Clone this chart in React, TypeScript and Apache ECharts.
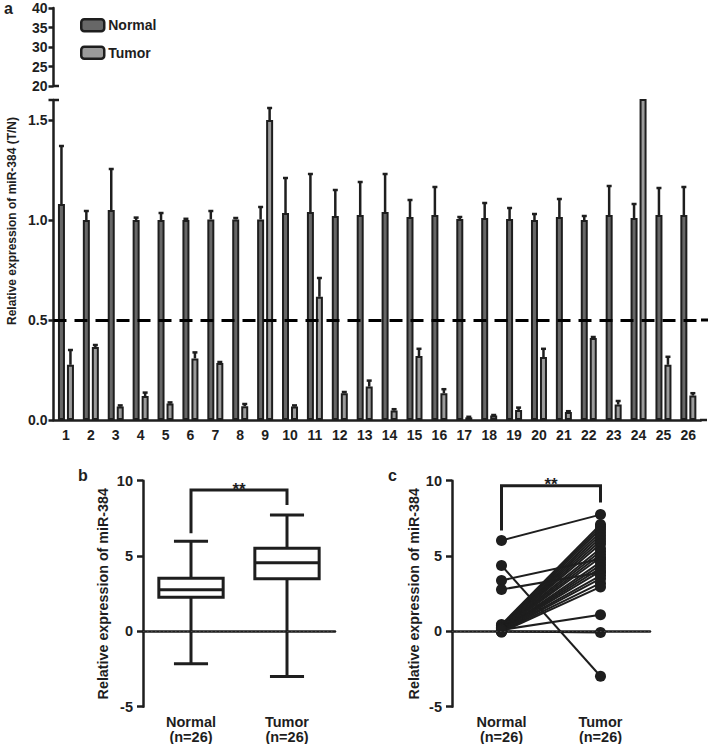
import React, { useEffect, useRef } from "react";
import * as echarts from "echarts";

const FONT = "'Liberation Sans', Arial, sans-serif";
const INK = "#1e1e1e";

// Panel a
const sampleLabels = Array.from({ length: 26 }, (_, i) => String(i + 1));
const normalMean = [1.08, 1.0, 1.05, 1.0, 1.0, 1.0, 1.003, 1.003, 1.003, 1.035, 1.04, 1.02, 1.025, 1.04, 1.015, 1.025, 1.005, 1.01, 1.005, 1.0, 1.015, 1.0, 1.025, 1.01, 1.025, 1.025];
const normalErr = [1.37, 1.045, 1.255, 1.012, 1.035, 1.006, 1.045, 1.01, 1.065, 1.21, 1.23, 1.15, 1.19, 1.23, 1.1, 1.165, 1.015, 1.085, 1.06, 1.03, 1.105, 1.02, 1.17, 1.08, 1.16, 1.165];
const tumorMean = [0.276, 0.365, 0.067, 0.12, 0.082, 0.308, 0.285, 0.069, 1.5, 0.067, 0.616, 0.134, 0.167, 0.047, 0.32, 0.134, 0.013, 0.022, 0.05, 0.315, 0.04, 0.41, 0.077, 2.0, 0.276, 0.122];
const tumorErr: (number | null)[] = [0.35, 0.375, 0.073, 0.137, 0.088, 0.338, 0.29, 0.08, 1.56, 0.073, 0.71, 0.14, 0.197, 0.054, 0.356, 0.154, 0.016, 0.025, 0.062, 0.356, 0.044, 0.415, 0.095, null, 0.316, 0.134];
const upperTicks = [20, 25, 30, 35, 40];
const cutoffLine = 0.5;

// Panel b (box plot: min, q1, median, q3, max)
const groupLabels = ["Normal\n(n=26)", "Tumor\n(n=26)"];
const boxNormal = [-2.15, 2.27, 2.76, 3.53, 5.98];
const boxTumor = [-3.0, 3.49, 4.55, 5.52, 7.73];
const bracketB = [9.38, 6.51, 8.39]; // top, left end, right end

// Panel c (paired)
const pairedNormal = [6.03, 4.37, 3.38, 2.78, 0.45, 0.4, 0.35, 0.3, 0.28, 0.25, 0.22, 0.2, 0.18, 0.15, 0.12, 0.1, 0.08, 0.06, 0.05, 0.03, 0.02, 0.0, -0.02, -0.05, 0.1, 0.0];
const pairedTumor = [7.75, -2.98, 4.8, 3.9, 7.1, 6.95, 6.8, 6.6, 6.4, 6.2, 6.0, 5.8, 5.5, 5.3, 5.1, 4.9, 4.6, 4.4, 4.2, 4.0, 3.7, 3.5, 3.2, 2.95, 1.1, -0.08];
const bracketC = [9.67, 6.69, 8.56];

const labelStyle = { color: INK, fontFamily: FONT, fontWeight: "bold" as const, fontSize: 14 };
const axisLineStyle = { lineStyle: { color: INK, width: 2.5 } };
const axisTickStyle = { length: 5, lineStyle: { color: INK, width: 2.5 } };

function errRender(offset: number) {
  return (params: any, api: any) => {
    const x = api.value(0);
    const v = api.value(1);
    const e = api.value(2);
    if (e == null || isNaN(e)) return null;
    const p0 = api.coord([x, v]);
    const p1 = api.coord([x, e]);
    const cx = p0[0] + offset;
    return {
      type: "group",
      children: [
        { type: "line", shape: { x1: cx, y1: p0[1], x2: cx, y2: p1[1] }, style: { stroke: INK, lineWidth: 2.5 } },
        { type: "line", shape: { x1: cx - 2.5, y1: p1[1], x2: cx + 2.5, y2: p1[1] }, style: { stroke: INK, lineWidth: 2.5 } },
      ],
    };
  };
}

function boxRender(params: any, api: any) {
  const i = api.value(0);
  const vals = [1, 2, 3, 4, 5].map((k) => api.coord([i, api.value(k)])[1]);
  const cx = api.coord([i, 0])[0];
  const band = api.size([1, 0])[0];
  const bw = band * 0.67;
  const cw = band * 0.355;
  const [yMin, yQ1, yMed, yQ3, yMax] = vals;
  const st = { stroke: INK, lineWidth: 3, fill: "none" };
  return {
    type: "group",
    children: [
      { type: "line", shape: { x1: cx, y1: yQ3, x2: cx, y2: yMax }, style: st },
      { type: "line", shape: { x1: cx - cw / 2, y1: yMax, x2: cx + cw / 2, y2: yMax }, style: st },
      { type: "line", shape: { x1: cx, y1: yQ1, x2: cx, y2: yMin }, style: st },
      { type: "line", shape: { x1: cx - cw / 2, y1: yMin, x2: cx + cw / 2, y2: yMin }, style: st },
      { type: "rect", shape: { x: cx - bw / 2, y: yQ3, width: bw, height: yQ1 - yQ3 }, style: { stroke: INK, lineWidth: 3, fill: "#fff" } },
      { type: "line", shape: { x1: cx - bw / 2, y1: yMed, x2: cx + bw / 2, y2: yMed }, style: st },
    ],
  };
}

function bracketRender(params: any, api: any) {
  const top = api.value(0);
  const le = api.value(1);
  const re = api.value(2);
  const a = api.coord([0, le]);
  const b = api.coord([0, top]);
  const c = api.coord([1, top]);
  const d = api.coord([1, re]);
  return {
    type: "group",
    children: [
      { type: "polyline", shape: { points: [a, b, c, d] }, style: { stroke: INK, lineWidth: 3, fill: "none" } },
      {
        type: "text",
        x: (b[0] + c[0]) / 2,
        y: b[1] - 1,
        style: { text: "**", fill: INK, font: `bold 17px ${FONT}`, align: "center", verticalAlign: "middle" },
      },
    ],
  };
}

const dotted = {
  silent: true,
  symbol: "none",
  label: { show: false },
  lineStyle: { color: "#444", width: 1.2, type: [1.5, 2.5] },
  data: [{ yAxis: 0 }],
};

export default function App() {
  const ref = useRef<HTMLDivElement>(null);
  useEffect(() => {
    if (!ref.current) return;
    const chart = echarts.init(ref.current, null, { renderer: "svg" });
    const gridA1 = { left: 53.5, top: 8, width: 647.3, height: 78 };
    const gridA2 = { left: 53.5, top: 100, width: 647.3, height: 320 };
    const gridB = { left: 143, top: 480.7, width: 192, height: 226 };
    const gridC = { left: 452, top: 480.7, width: 198, height: 226 };

    const pairSeries = pairedNormal.map((n, i) => ({
      type: "line",
      xAxisIndex: 3,
      yAxisIndex: 3,
      data: [n, pairedTumor[i]],
      symbol: "circle",
      symbolSize: 11,
      showSymbol: true,
      lineStyle: { color: INK, width: 2 },
      itemStyle: { color: INK },
      silent: true,
      z: 3,
    }));

    const option: any = {
      animation: false,
      backgroundColor: "#fff",
      textStyle: { fontFamily: FONT },
      grid: [gridA1, gridA2, gridB, gridC].map((g) => ({ ...g, containLabel: false, outerBoundsMode: "none" })),
      legend: {
        data: ["Normal", "Tumor"],
        orient: "vertical",
        left: 80,
        top: 18,
        padding: 0,
        itemWidth: 23,
        itemHeight: 12,
        itemGap: 13,
        textStyle: { ...labelStyle, fontSize: 14, padding: [0, 0, 0, -1] },
        itemStyle: { borderColor: INK, borderWidth: 2.5 },
      },
      xAxis: [
        { type: "category", gridIndex: 0, data: sampleLabels, show: false },
        {
          type: "category",
          gridIndex: 1,
          data: sampleLabels,
          axisLine: axisLineStyle,
          axisTick: { ...axisTickStyle, alignWithLabel: true },
          axisLabel: { ...labelStyle, margin: 8, interval: 0 },
        },
        {
          type: "category",
          gridIndex: 2,
          data: groupLabels,
          axisLine: axisLineStyle,
          axisTick: { ...axisTickStyle, alignWithLabel: true },
          axisLabel: { ...labelStyle, fontSize: 14.5, lineHeight: 15, margin: 8 },
        },
        {
          type: "category",
          gridIndex: 3,
          data: groupLabels,
          axisLine: axisLineStyle,
          axisTick: { ...axisTickStyle, alignWithLabel: true },
          axisLabel: { ...labelStyle, fontSize: 14.5, lineHeight: 15, margin: 8 },
        },
      ],
      yAxis: [
        {
          type: "value",
          gridIndex: 0,
          min: upperTicks[0],
          max: upperTicks[upperTicks.length - 1],
          interval: 5,
          axisLine: { show: true, ...axisLineStyle },
          axisTick: { show: true, ...axisTickStyle },
          axisLabel: { ...labelStyle, margin: 6 },
          splitLine: { show: false },
        },
        {
          type: "value",
          gridIndex: 1,
          min: 0,
          max: 1.6,
          interval: 0.5,
          axisLine: { show: true, ...axisLineStyle },
          axisTick: { show: true, ...axisTickStyle },
          axisLabel: { ...labelStyle, margin: 6, showMaxLabel: false, formatter: (v: number) => v.toFixed(1) },
          splitLine: { show: false },
        },
        {
          type: "value",
          gridIndex: 2,
          min: -5,
          max: 10,
          interval: 5,
          name: "Relative expression of miR-384",
          nameLocation: "middle",
          nameGap: 33,
          nameTextStyle: { ...labelStyle, fontSize: 14.3 },
          axisLine: { show: true, ...axisLineStyle },
          axisTick: { show: true, ...axisTickStyle, length: 6 },
          axisLabel: { ...labelStyle, fontSize: 14.5, margin: 10 },
          splitLine: { show: false },
        },
        {
          type: "value",
          gridIndex: 3,
          min: -5,
          max: 10,
          interval: 5,
          name: "Relative expression of miR-384",
          nameLocation: "middle",
          nameGap: 31,
          nameTextStyle: { ...labelStyle, fontSize: 14.3 },
          axisLine: { show: true, ...axisLineStyle },
          axisTick: { show: true, ...axisTickStyle, length: 6 },
          axisLabel: { ...labelStyle, fontSize: 14.5, margin: 10 },
          splitLine: { show: false },
        },
      ],
      series: [
        { type: "line", xAxisIndex: 0, yAxisIndex: 0, data: [], silent: true },
        {
          name: "Normal",
          type: "bar",
          xAxisIndex: 1,
          yAxisIndex: 1,
          data: normalMean,
          barWidth: 7,
          barGap: "28.6%",
          itemStyle: { color: "#676767", borderColor: INK, borderWidth: 2 },
          markLine: {
            silent: true,
            symbol: "none",
            label: { show: false },
            lineStyle: { color: "#000", width: 3, type: [13, 8] },
            data: [{ yAxis: cutoffLine }],
          },
        },
        {
          name: "Tumor",
          type: "bar",
          xAxisIndex: 1,
          yAxisIndex: 1,
          data: tumorMean,
          barWidth: 7,
          barGap: "28.6%",
          itemStyle: { color: "#9b9b9b", borderColor: INK, borderWidth: 2 },
        },
        {
          type: "custom",
          xAxisIndex: 1,
          yAxisIndex: 1,
          data: normalMean.map((v, i) => [i, v, normalErr[i]]),
          renderItem: errRender(-4.5),
          z: 5,
          silent: true,
        },
        {
          type: "custom",
          xAxisIndex: 1,
          yAxisIndex: 1,
          data: tumorMean.map((v, i) => [i, v, tumorErr[i] == null ? NaN : tumorErr[i]]),
          renderItem: errRender(4.5),
          z: 5,
          silent: true,
        },
        {
          type: "custom",
          xAxisIndex: 2,
          yAxisIndex: 2,
          data: [[0, ...boxNormal], [1, ...boxTumor]],
          renderItem: boxRender,
          silent: true,
          z: 3,
          markLine: dotted,
        },
        {
          type: "custom",
          xAxisIndex: 2,
          yAxisIndex: 2,
          data: [bracketB],
          renderItem: bracketRender,
          silent: true,
          clip: false,
        },
        {
          type: "custom",
          xAxisIndex: 3,
          yAxisIndex: 3,
          data: [bracketC],
          renderItem: bracketRender,
          silent: true,
          clip: false,
          markLine: dotted,
        },
        ...pairSeries,
      ],
      graphic: [
        { type: "text", left: 4, top: 0, style: { text: "a", fill: INK, font: `bold 16px ${FONT}` } },
        { type: "text", left: 78, top: 467, style: { text: "b", fill: INK, font: `bold 16px ${FONT}` } },
        { type: "text", left: 388, top: 467, style: { text: "c", fill: INK, font: `bold 16px ${FONT}` } },
        {
          type: "text",
          x: 12,
          y: 221,
          rotation: Math.PI / 2,
          style: { text: "Relative expression of miR-384 (T/N)", fill: INK, font: `bold 12px ${FONT}`, align: "center", verticalAlign: "middle" },
        },
        // axis break caps
        { type: "line", shape: { x1: 48.5, y1: 100, x2: 59, y2: 100 }, style: { stroke: INK, lineWidth: 2.5 } },
        { type: "line", shape: { x1: 53.5, y1: 86, x2: 59, y2: 86 }, style: { stroke: INK, lineWidth: 2.5 } },
        // x-axis and cutoff extension to right edge
        { type: "line", shape: { x1: 700, y1: 420, x2: 707, y2: 420 }, style: { stroke: INK, lineWidth: 2.5 } },
        { type: "line", shape: { x1: 701, y1: 320, x2: 708, y2: 320 }, style: { stroke: "#000", lineWidth: 3 } },
      ],
    };
    chart.setOption(option);
    return () => chart.dispose();
  }, []);
  return <div ref={ref} style={{ position: "absolute", left: 0, top: 0, width: 708, height: 744 }} />;
}
